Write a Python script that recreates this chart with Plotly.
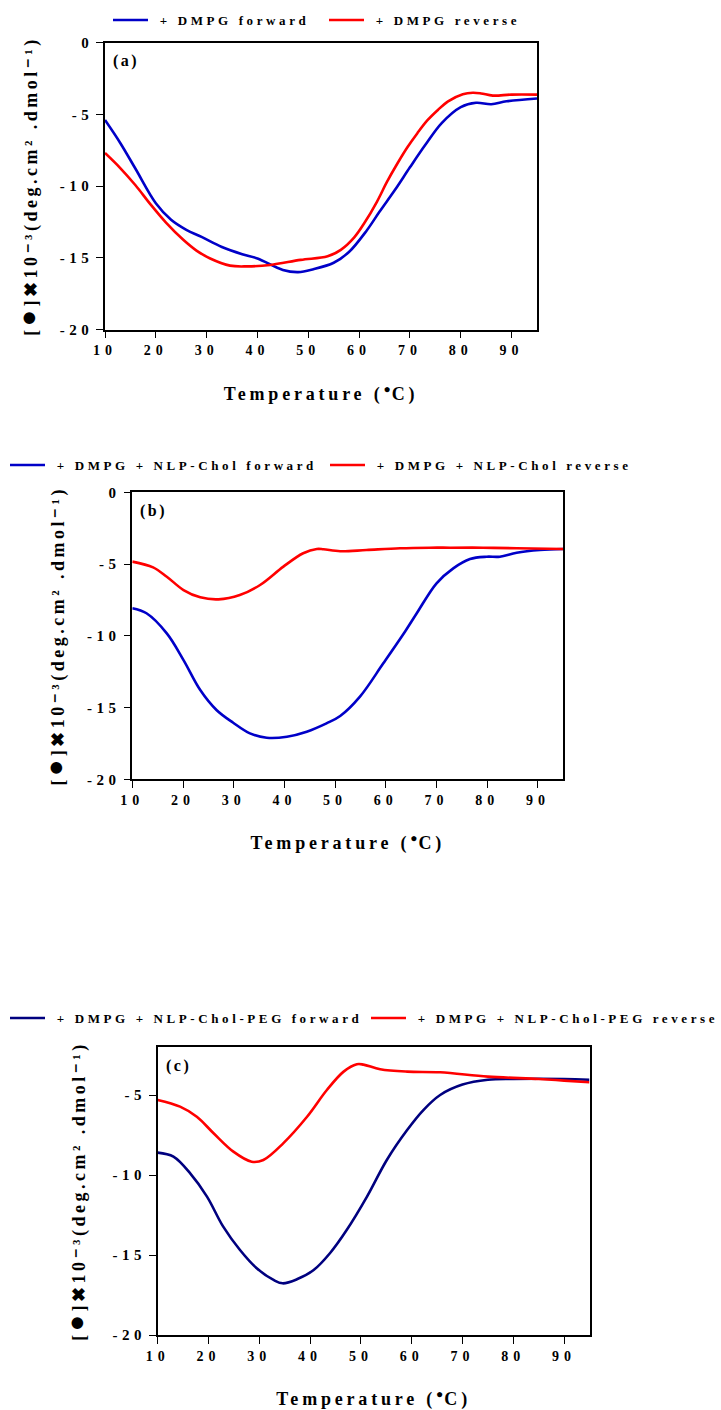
import plotly.graph_objects as go

# ---------------- data ----------------
temp_a_fwd = [10, 13, 16, 20, 23, 26, 29, 33, 37, 40, 45, 48, 51, 55, 58, 61.5, 64, 67, 70, 73, 76.2,
              80, 83, 86, 89, 95]
cd_a_fwd = [-5.4, -7.0, -8.8, -11.2, -12.35, -13.05, -13.55, -14.25, -14.75, -15.05, -15.85, -16.0,
            -15.8, -15.35, -14.6, -13.1, -11.8, -10.3, -8.7, -7.15, -5.63, -4.5, -4.2, -4.3, -4.1, -3.9]
temp_a_rev = [10, 13, 16, 19, 22, 25.4, 28, 30.7, 34.6, 38, 42.5, 48.5, 53.8, 56.4, 59, 61, 63.5,
              65.5, 67.5, 69.5, 71.5, 73.5, 75.5, 77.5, 80.4, 82.4, 84, 86.3, 90, 95]
cd_a_rev = [-7.7, -8.75, -9.95, -11.3, -12.55, -13.75, -14.5, -15.05, -15.55, -15.6, -15.5, -15.15,
            -14.9, -14.45, -13.6, -12.6, -11.1, -9.7, -8.45, -7.3, -6.3, -5.4, -4.7, -4.1, -3.6,
            -3.5, -3.55, -3.7, -3.63, -3.63]

temp_b_fwd = [10, 12.8, 16.8, 20.1, 23.4, 26.6, 29.9, 33.2, 36.5, 40.5, 44.4, 48.3, 51, 54.9, 59.5,
              63.8, 66.1, 70, 73.3, 76.6, 79.9, 82.5, 85.8, 90.4, 95]
cd_b_fwd = [-8.08, -8.43, -9.83, -11.69, -13.78, -15.17, -16.06, -16.8, -17.1, -17.03, -16.68, -16.1,
            -15.59, -14.24, -11.92, -9.7, -8.43, -6.34, -5.3, -4.65, -4.49, -4.49, -4.21, -4.02, -3.95]
temp_b_rev = [10, 14.1, 16.8, 20.1, 23.4, 27, 31.2, 35.2, 39.8, 43.7, 46.4, 47.7, 51, 56.2, 62.8,
              68.7, 72.7, 79.2, 85.8, 95]
cd_b_rev = [-4.83, -5.23, -5.88, -6.81, -7.32, -7.46, -7.16, -6.46, -5.18, -4.25, -3.95, -3.97, -4.11,
            -4.02, -3.9, -3.86, -3.86, -3.86, -3.9, -3.95]

temp_c_fwd = [10, 13.1, 16.4, 19.7, 22.9, 26.2, 29.5, 32.8, 34.6, 37.4, 40.7, 43.9, 47.2, 51.2, 55.1,
              59.1, 62.3, 65.6, 70, 75, 80, 90, 95]
cd_c_fwd = [-8.6, -8.85, -9.9, -11.35, -13.23, -14.69, -15.83, -16.56, -16.77, -16.52, -15.94, -14.89,
            -13.44, -11.35, -9.06, -7.19, -5.94, -5.0, -4.35, -4.05, -4.0, -4.0, -4.05]
temp_c_rev = [10, 14.4, 17.7, 21, 24.9, 28.5, 30.8, 34.7, 39.4, 43.3, 46.6, 49.2, 50.5, 53.8, 59.1,
              65.6, 75, 85, 90, 95]
cd_c_rev = [-5.31, -5.73, -6.36, -7.39, -8.54, -9.17, -9.06, -8.02, -6.36, -4.69, -3.54, -3.08, -3.1,
            -3.39, -3.54, -3.58, -3.85, -4.0, -4.1, -4.2]

x_ticks = [10, 20, 30, 40, 50, 60, 70, 80, 90]
y_ticks_ab = [0, -5, -10, -15, -20]
y_ticks_c = [-5, -10, -15, -20]

names = {
    "a": ["+ DMPG forward", "+ DMPG reverse"],
    "b": ["+ DMPG + NLP-Chol forward", "+ DMPG + NLP-Chol reverse"],
    "c": ["+ DMPG + NLP-Chol-PEG forward", "+ DMPG + NLP-Chol-PEG reverse"],
}

# ---------------- style ----------------
W, H = 721, 1410
FONT = "Liberation Serif"
BLUE = "#0000C8"
NAVY = "#00007F"
RED = "#FF0000"


def sp(s, ls, extra=""):
    return f'<span style="letter-spacing:{ls}px;{extra}">{s}</span>'


def px_dom_x(l, r):
    return [l / W, r / W]


def px_dom_y(t, b):
    return [1 - b / H, 1 - t / H]


ytitle = (sp("[", 3.5) + sp("●", 3.5, "font-size:27px") + sp("]✖10⁻³(deg.cm² .dmol⁻¹)", 3.5))
xtitle = (sp("Temperature (", 3.8) + sp("●", 1, "font-size:12px;baseline-shift:55%")
          + sp("C)", 3.8))

panels = [
    ("a", (105, 537), (42.5, 329.5), [-20, 0], y_ticks_ab, (BLUE, RED)),
    ("b", (132.3, 563.3), (492.3, 779.3), [-20, 0], y_ticks_ab, (BLUE, RED)),
    ("c", (157.7, 589.5), (1047, 1335), [-20, -2], y_ticks_c, (NAVY, RED)),
]
data = {
    "a": [(temp_a_fwd, cd_a_fwd), (temp_a_rev, cd_a_rev)],
    "b": [(temp_b_fwd, cd_b_fwd), (temp_b_rev, cd_b_rev)],
    "c": [(temp_c_fwd, cd_c_fwd), (temp_c_rev, cd_c_rev)],
}
legend_pos = {"a": (108, 20), "b": (5, 465), "c": (5, 1018)}
legend_entry = {"a": 166, "b": 270, "c": 311}
legend_ls = {"a": 3.6, "b": 3.6, "c": 3.6}
ystand = {"a": 17, "b": 18, "c": 22}

fig = go.Figure()
layout = dict(
    width=W, height=H, margin=dict(l=0, r=0, t=0, b=0, autoexpand=False),
    paper_bgcolor="white", plot_bgcolor="white",
    font=dict(family=FONT, size=14, color="black", weight="bold"),
    annotations=[],
)

for i, (key, (xl, xr), (yt, yb), yr, yt_vals, cols) in enumerate(panels):
    n = "" if i == 0 else str(i + 1)
    legname = "legend" if i == 0 else f"legend{i + 1}"
    for j, (xs, ys) in enumerate(data[key]):
        fig.add_trace(go.Scatter(
            x=xs, y=ys, mode="lines", name=sp("\u00a0" + names[key][j], legend_ls[key]),
            line=dict(color=cols[j], width=2.6, shape="spline", smoothing=1.0),
            xaxis="x" + n, yaxis="y" + n, legend=legname,
        ))
    layout["xaxis" + n] = dict(
        domain=px_dom_x(xl, xr), anchor="y" + n, range=[10, 95],
        tickvals=x_ticks, ticktext=[sp(str(v), 5) for v in x_ticks],
        ticks="outside", ticklen=7, tickwidth=1.3, tickcolor="black",
        showline=True, linecolor="black", linewidth=1.5, mirror=True,
        showgrid=False, zeroline=False, tickfont=dict(size=14),
        title=dict(text=xtitle, font=dict(size=18), standoff=30),
    )
    layout["yaxis" + n] = dict(
        domain=px_dom_y(yt, yb), anchor="x" + n, range=yr,
        tickvals=yt_vals, ticktext=[sp(str(v), 4.5) for v in yt_vals],
        ticks="outside", ticklen=7, tickwidth=1.3, tickcolor="black",
        showline=True, linecolor="black", linewidth=1.5, mirror=True,
        showgrid=False, zeroline=False, tickfont=dict(size=15),
        title=dict(text=ytitle, font=dict(size=18), standoff=ystand[key]),
    )
    lx, ly = legend_pos[key]
    layout[legname] = dict(
        orientation="h", x=lx / W, y=1 - ly / H, xanchor="left", yanchor="middle",
        font=dict(size=13, family=FONT, weight="bold"), bgcolor="rgba(0,0,0,0)",
        entrywidth=legend_entry[key], entrywidthmode="pixels", itemwidth=35,
    )
    layout["annotations"].append(dict(
        text=sp(f"({key})", 2.5), xref="paper", yref="paper",
        x=(xl + 6) / W, y=1 - (yt + 19) / H, xanchor="left", yanchor="middle",
        showarrow=False, font=dict(size=16),
    ))

fig.update_layout(**layout)
fig.write_html("out.html", config={"displayModeBar": False},
               post_script="document.body.style.margin='0';")
